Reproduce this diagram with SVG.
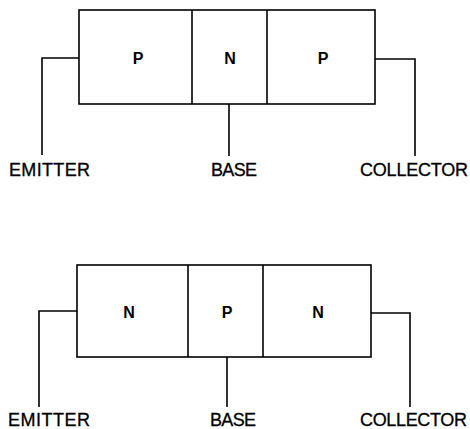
<svg xmlns="http://www.w3.org/2000/svg" width="470" height="429" viewBox="0 0 470 429">
<style>
.box{fill:none;stroke:#000;stroke-width:1.6}
.w{fill:none;stroke:#000;stroke-width:1.6}
.lbl{font-family:"Liberation Sans",Arial,sans-serif;font-size:18px;fill:#000;stroke:#000;stroke-width:0.3}
.reg{font-family:"Liberation Sans",Arial,sans-serif;font-size:16px;font-weight:bold;fill:#000;text-anchor:middle}
</style>
<rect width="470" height="429" fill="#fff"/>
<g id="pnp">
<rect class="box" x="79" y="10" width="296" height="94"/>
<line class="box" x1="192" y1="10" x2="192" y2="104"/>
<line class="box" x1="267" y1="10" x2="267" y2="104"/>
<text class="reg" x="138" y="64">P</text>
<text class="reg" x="230" y="64">N</text>
<text class="reg" x="323" y="64">P</text>
</g>
<g id="npn">
<rect class="box" x="77" y="265" width="294" height="92"/>
<line class="box" x1="188" y1="265" x2="188" y2="357"/>
<line class="box" x1="263" y1="265" x2="263" y2="357"/>
<text class="reg" x="129" y="318">N</text>
<text class="reg" x="227" y="318">P</text>
<text class="reg" x="318" y="318">N</text>
</g>
<g id="connectors">
<polyline class="w" points="79,58 42,58 42,155"/>
<polyline class="w" points="229,104 229,156"/>
<polyline class="w" points="375,59 415,59 415,156"/>
<polyline class="w" points="77,311 39,311 39,407"/>
<polyline class="w" points="227,357 227,407"/>
<polyline class="w" points="371,313 410,313 410,407"/>
</g>
<g id="labels">
<text class="lbl" x="9" y="176" textLength="81">EMITTER</text>
<text class="lbl" x="211" y="176" textLength="46">BASE</text>
<text class="lbl" x="360" y="176" textLength="108">COLLECTOR</text>
<text class="lbl" x="8" y="426" textLength="82">EMITTER</text>
<text class="lbl" x="210" y="426" textLength="46">BASE</text>
<text class="lbl" x="360" y="426" textLength="107">COLLECTOR</text>
</g>
</svg>
